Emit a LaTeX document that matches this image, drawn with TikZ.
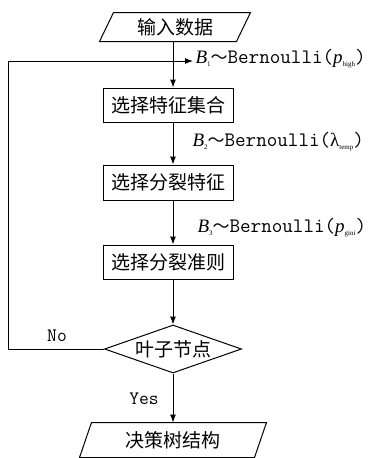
\documentclass[tikz,border=0pt]{standalone}
\usepackage{fontspec}
\setmainfont{Liberation Serif}
\setmonofont{Latin Modern Mono}
\newfontfamily\cjk{Noto Sans CJK SC}
\usetikzlibrary{shapes.geometric,arrows.meta}
\newcommand\mysub[1]{\raisebox{-3pt}{\fontsize{7}{7}\selectfont #1}}
\newcommand\bern{{\ttfamily\fontsize{20.5}{20.5}\selectfont Bernoulli(}}
\newcommand\rpar{{\ttfamily\fontsize{20.5}{20.5}\selectfont )}}
\newcommand\tld{{\cjk\fontsize{17}{17}\selectfont ～}}
\tikzset{
  cjkfont/.style={font=\cjk\fontsize{19}{19}\selectfont},
  box/.style={draw, rectangle, minimum width=130pt, inner sep=0pt, cjkfont},
  dec/.style={draw, diamond, aspect=2.85, minimum width=137pt, minimum height=48pt, inner sep=0pt, cjkfont},
  io/.style={rectangle, inner sep=0pt, cjkfont},
  arr/.style={-{Latex[length=8pt,width=6pt]}},
  lab/.style={anchor=base west, inner sep=0pt, font=\fontsize{19}{19}\selectfont},
  yn/.style={inner sep=0pt, font=\ttfamily\fontsize{19}{19}\selectfont},
}
\begin{document}
\begin{tikzpicture}[x=1pt, y=-1pt, line width=1pt]
\useasboundingbox (0,0) rectangle (371,458);
\coordinate (spine) at (173,0);
% nodes
\node[io, minimum width=136pt, minimum height=28pt] (in) at (175,27) {输入数据};
\draw ([xshift=7pt]in.north west) -- ([xshift=7pt]in.north east) -- ([xshift=-7pt]in.south east) -- ([xshift=-7pt]in.south west) -- cycle;
\node[box, minimum height=34pt] (b1) at (168,105) {选择特征集合};
\node[box, minimum height=35pt] (b2) at (168,182.5) {选择分裂特征};
\node[box, minimum height=34pt] (b3) at (168,262) {选择分裂准则};
\node[dec] (dia) at (173,349) {叶子节点};
\node[io, minimum width=174pt, minimum height=34pt] (out) at (173,440) {决策树结构};
\draw ([xshift=6pt]out.north west) -- ([xshift=6pt]out.north east) -- ([xshift=-6pt]out.south east) -- ([xshift=-6pt]out.south west) -- cycle;
% labels
\node[lab] (l1) at (195,63) {{\itshape B}\mysub{1}\tld\bern{\itshape p}\mysub{high}\rpar};
\node[lab] (l2) at (192,146) {{\itshape B}\mysub{2}\tld\bern λ\mysub{temp}\rpar};
\node[lab] (l3) at (197,232) {{\itshape B}\mysub{3}\tld\bern{\itshape p}\mysub{gini}\rpar};
\node[yn] (no) at (57,336) {No};
\node[yn] (yes) at (144,399) {Yes};
% connectors
\draw[arr] (in.south -| spine) -- (b1.north -| spine);
\draw[arr] (b1.south -| spine) -- (b2.north -| spine);
\draw[arr] (b2.south -| spine) -- (b3.north -| spine);
\draw[arr] (b3.south -| spine) -- (dia.north);
\draw[arr] (dia.south) -- (out.north);
\coordinate (fbend) at (8,61);
\coordinate (fend) at (193,61);
\draw[arr] (dia.west) -| (fbend) -- (fend);
\end{tikzpicture}
\end{document}
